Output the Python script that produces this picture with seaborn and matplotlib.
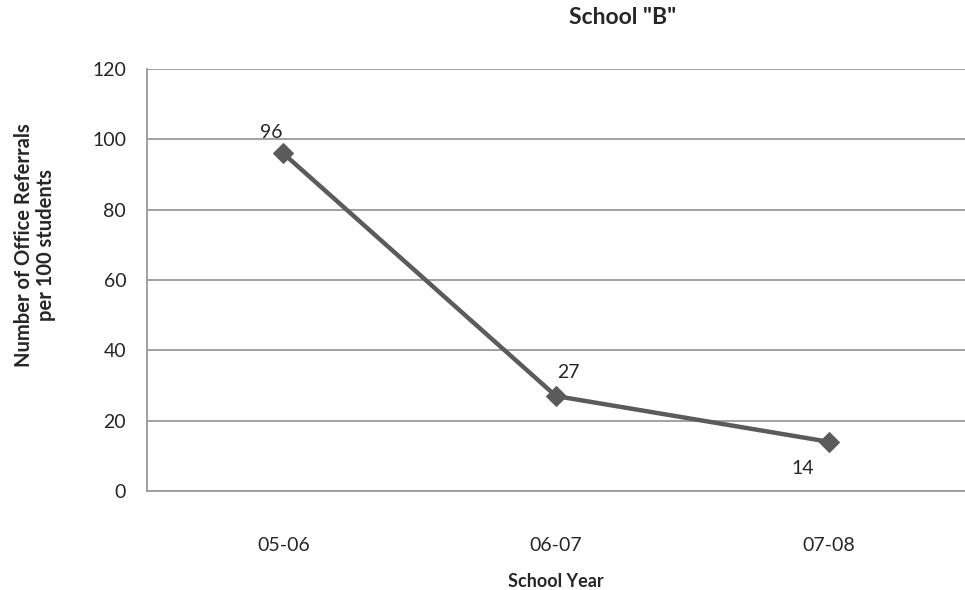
import matplotlib
matplotlib.use("Agg")
import matplotlib.pyplot as plt
import seaborn as sns
import pandas as pd

years = ["05-06", "06-07", "07-08"]
referrals = [96, 27, 14]

df = pd.DataFrame({"year": years, "referrals": referrals})

sns.set_style("white")
plt.rcParams['font.family'] = ['Lato', 'DejaVu Sans']

fig = plt.figure(figsize=(9.65, 5.9), dpi=100)
ax = fig.add_axes([147 / 965, 1 - 491 / 590, 1 - 147 / 965, (491 - 69) / 590])

line_col = "#5b5b5b"
grid_col = "#9a9a9a"

x = list(range(len(years)))
sns.lineplot(x=x, y=df["referrals"], ax=ax, color=line_col, linewidth=3.2,
             marker="D", markersize=10, markeredgecolor=line_col, zorder=3)

ax.set_xlim(-0.5, 2.475)
ax.set_ylim(0, 120)
ax.set_yticks(range(0, 121, 20))
ax.yaxis.grid(True, color=grid_col, linewidth=1.3)
ax.set_axisbelow(True)

# categories at centers, ticks at boundaries
ax.set_xticks([-0.5, 0.5, 1.5, 2.5])
ax.set_xticklabels([])
ax.set_xticks(x, minor=True)
ax.set_xticklabels(years, minor=True, fontsize=14)
ax.tick_params(axis="x", which="minor", length=0, pad=33)
ax.tick_params(axis="x", which="major", length=6, width=1.3, color=grid_col, direction="out")
ax.tick_params(axis="y", length=6, width=1.3, color=grid_col, direction="out", labelsize=14, pad=9)

for s in ["top", "right"]:
    ax.spines[s].set_visible(False)
for s in ["left", "bottom"]:
    ax.spines[s].set_color(grid_col)
    ax.spines[s].set_linewidth(1.3)

offsets = [(-9, 15), (9, 17), (-19, -19)]
for xi, v, off in zip(x, referrals, offsets):
    ax.annotate(str(v), (xi, v), xytext=off, textcoords="offset points",
                fontsize=14, ha="center", va="center")

ax.set_xlabel("School Year", fontsize=13, fontweight="bold", labelpad=14)
ax.set_ylabel("Number of Office Referrals\nper 100 students", fontsize=14.5,
              fontweight="bold", linespacing=1.15, va="center")
ax.yaxis.set_label_coords((35 - 147) / 818, (491 - 245) / 422)
fig.text(623 / 965, 1 - 18 / 590, 'School "B"', fontsize=16.5, fontweight="bold",
         ha="center", va="center")

fig.savefig("out.png", dpi=100)
